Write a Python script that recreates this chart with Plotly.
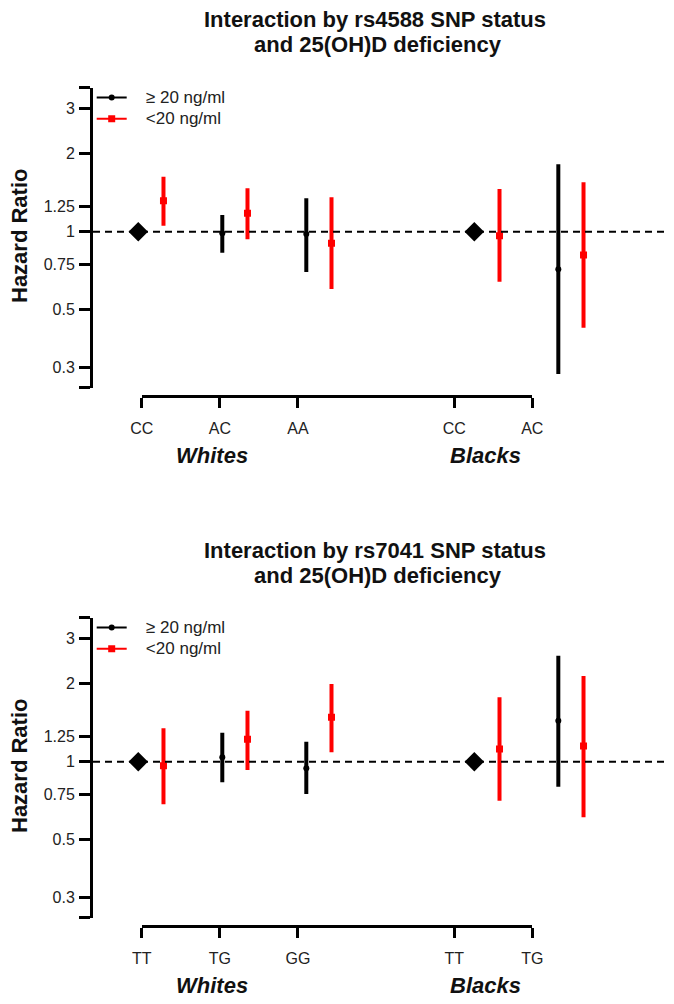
import math
import plotly.graph_objects as go

# ---------------- data ----------------
panel_titles = ["Interaction by rs4588 SNP status", "Interaction by rs7041 SNP status"]
panel_subtitle = "and 25(OH)D deficiency"
genotypes_rs4588 = ["CC", "AC", "AA", "CC", "AC"]
genotypes_rs7041 = ["TT", "TG", "GG", "TT", "TG"]
groups = ["Whites", "Blacks"]
genotype_pos = [1, 2, 3, 5, 6]          # slots of the genotype categories
reference_pos = [1, 5]                  # reference genotype (HR = 1) per race
reference_hr = [1, 1]
sufficient_pos = [2, 3, 6]              # >=20 ng/ml estimates (non-reference)
deficient_pos = [1, 2, 3, 5, 6]         # <20 ng/ml estimates

# rs4588
hr_suff_4588 = [0.986, 0.980, 0.716]
lo_suff_4588 = [0.830, 0.699, 0.282]
hi_suff_4588 = [1.160, 1.346, 1.820]
hr_def_4588 = [1.317, 1.178, 0.902, 0.965, 0.813]
lo_def_4588 = [1.055, 0.935, 0.601, 0.641, 0.426]
hi_def_4588 = [1.631, 1.471, 1.358, 1.462, 1.551]

# rs7041
hr_suff_7041 = [1.040, 0.943, 1.440]
lo_suff_7041 = [0.833, 0.750, 0.801]
hi_suff_7041 = [1.294, 1.195, 2.567]
hr_def_7041 = [0.965, 1.220, 1.484, 1.120, 1.150]
lo_def_7041 = [0.685, 0.929, 1.087, 0.707, 0.610]
hi_def_7041 = [1.346, 1.574, 1.995, 1.773, 2.143]

y_tickvals = [0.25, 0.3, 0.5, 0.75, 1, 1.25, 2, 3, 3.6]
y_ticktext = ["", "0.3", "0.5", "0.75", "1", "1.25", "2", "3", ""]
legend_labels = ["\u2265 20 ng/ml", "<20 ng/ml"]

# ---------------- styling / layout helpers ----------------
W, H = 674, 1004
FONT = "Liberation Sans, Arial, Helvetica, sans-serif"
DODGE = 0.3
RED = "#ff0000"
LEG_PAD = "\u00a0\u00a0\u00a0"


def fx(px):
    return px / W


def fy(py):
    return 1 - py / H


def leg_text(s):
    return '<span style="font-size:17px">' + LEG_PAD + s + "</span>"


panels = [
    dict(titles=panel_titles[0], geno=genotypes_rs4588,
         hs=hr_suff_4588, ls=lo_suff_4588, us=hi_suff_4588,
         hd=hr_def_4588, ld=lo_def_4588, ud=hi_def_4588),
    dict(titles=panel_titles[1], geno=genotypes_rs7041,
         hs=hr_suff_7041, ls=lo_suff_7041, us=hi_suff_7041,
         hd=hr_def_7041, ld=lo_def_7041, ud=hi_def_7041),
]

fig = go.Figure()
layout = dict(width=W, height=H, margin=dict(l=0, r=0, t=0, b=0, autoexpand=False),
              paper_bgcolor="white", plot_bgcolor="rgba(0,0,0,0)",
              font=dict(family=FONT, color="#111"), showlegend=True,
              annotations=[], shapes=[])

for i, p in enumerate(panels):
    dy = 530 * i
    xs = "x" if i == 0 else "x2"
    ys = "y" if i == 0 else "y2"
    xc = "x3" if i == 0 else "x4"
    xk = "xaxis" if i == 0 else "xaxis2"
    yk = "yaxis" if i == 0 else "yaxis2"
    xck = "xaxis3" if i == 0 else "xaxis4"
    lg = "legend" if i == 0 else "legend2"

    # reference diamonds
    fig.add_trace(go.Scatter(x=reference_pos, y=reference_hr, xaxis=xs, yaxis=ys,
                             mode="markers", showlegend=False, hoverinfo="skip",
                             marker=dict(symbol="diamond", size=15, color="black")))
    # >=20 ng/ml
    fig.add_trace(go.Scatter(
        x=sufficient_pos, y=p["hs"], xaxis=xs, yaxis=ys, mode="markers", showlegend=False,
        marker=dict(symbol="circle", size=6, color="black"),
        error_y=dict(type="data", symmetric=False,
                     array=[u - h for u, h in zip(p["us"], p["hs"])],
                     arrayminus=[h - l for h, l in zip(p["hs"], p["ls"])],
                     thickness=4, width=0, color="black")))
    # <20 ng/ml
    fig.add_trace(go.Scatter(
        x=[v + DODGE for v in deficient_pos], y=p["hd"], xaxis=xs, yaxis=ys, mode="markers",
        showlegend=False,
        marker=dict(symbol="square", size=7, color=RED),
        error_y=dict(type="data", symmetric=False,
                     array=[u - h for u, h in zip(p["ud"], p["hd"])],
                     arrayminus=[h - l for h, l in zip(p["hd"], p["ld"])],
                     thickness=4, width=0, color=RED)))
    # legend entries
    fig.add_trace(go.Scatter(x=[None], y=[None], xaxis=xs, yaxis=ys, mode="lines+markers",
                             name=leg_text(legend_labels[0]), legend=lg,
                             line=dict(color="black", width=2),
                             marker=dict(symbol="circle", size=6, color="black")))
    fig.add_trace(go.Scatter(x=[None], y=[None], xaxis=xs, yaxis=ys, mode="lines+markers",
                             name=leg_text(legend_labels[1]), legend=lg,
                             line=dict(color=RED, width=2),
                             marker=dict(symbol="square", size=7, color=RED)))
    # genotype axis carrier
    fig.add_trace(go.Scatter(x=genotype_pos, y=[None] * len(genotype_pos), xaxis=xc, yaxis=ys,
                             mode="markers", showlegend=False, hoverinfo="skip"))

    layout[xk] = dict(domain=[fx(93), fx(664)], range=[0.461, 7.258], visible=False,
                      anchor=ys, fixedrange=True)
    layout[yk] = dict(type="log", domain=[fy(387.6 + dy), fy(87.6 + dy)],
                      range=[math.log10(0.25) - 1e-7, math.log10(3.6) + 1e-7],
                      anchor=xs, showline=True, linewidth=3, linecolor="black",
                      ticks="outside", ticklen=11, tickwidth=3, tickcolor="black",
                      tickvals=y_tickvals, ticktext=y_ticktext, showgrid=False,
                      zeroline=False, ticklabelstandoff=1,
                      tickfont=dict(size=16, color="#222"))
    layout[xck] = dict(domain=[fx(141.7), fx(532.3)], range=[1 - 1e-7, 6 + 1e-7],
                       anchor="free", position=fy(396 + dy), showline=True, linewidth=3,
                       linecolor="black", ticks="outside", ticklen=10, tickwidth=3,
                       tickcolor="black", tickvals=genotype_pos, ticktext=p["geno"],
                       showgrid=False, zeroline=False, ticklabelstandoff=7,
                       tickfont=dict(size=16, color="#222"))
    layout[lg] = dict(x=fx(91.7), y=fy(82 + dy), xanchor="left", yanchor="top",
                      bgcolor="rgba(0,0,0,0)", font=dict(size=14, color="#222"),
                      tracegroupgap=0)

    # dashed reference line
    layout["shapes"].append(dict(type="line", xref=xs + " domain", x0=0, x1=1, yref=ys,
                                 y0=1, y1=1, layer="above",
                                 line=dict(color="black", width=2, dash="7px,5px")))
    # titles
    layout["annotations"].append(dict(text="<b>" + p["titles"] + "</b>", xref="paper",
                                      yref="paper", x=fx(375), y=fy(20 + dy), showarrow=False,
                                      xanchor="center", yanchor="middle",
                                      font=dict(size=22, color="#111")))
    layout["annotations"].append(dict(text="<b>" + panel_subtitle + "</b>", xref="paper",
                                      yref="paper", x=fx(378), y=fy(45 + dy), showarrow=False,
                                      xanchor="center", yanchor="middle",
                                      font=dict(size=22, color="#111")))
    # y title
    layout["annotations"].append(dict(text="<b>Hazard Ratio</b>", xref="paper", yref="paper",
                                      x=fx(19), y=fy(236 + dy), showarrow=False, textangle=-90,
                                      xanchor="center", yanchor="middle",
                                      font=dict(size=22, color="#111")))
    # race group labels
    for gname, gx in zip(groups, [1.9, 5.4]):
        layout["annotations"].append(dict(text="<b><i>" + gname + "</i></b>", xref=xc,
                                          yref="paper", x=gx, y=fy(455 + dy),
                                          showarrow=False, xanchor="center",
                                          yanchor="middle", font=dict(size=22, color="#111")))

fig.update_layout(**layout)
fig.write_html("out.html", config={"displayModeBar": False},
               post_script="document.body.style.margin='0';document.body.style.overflow='hidden';")
